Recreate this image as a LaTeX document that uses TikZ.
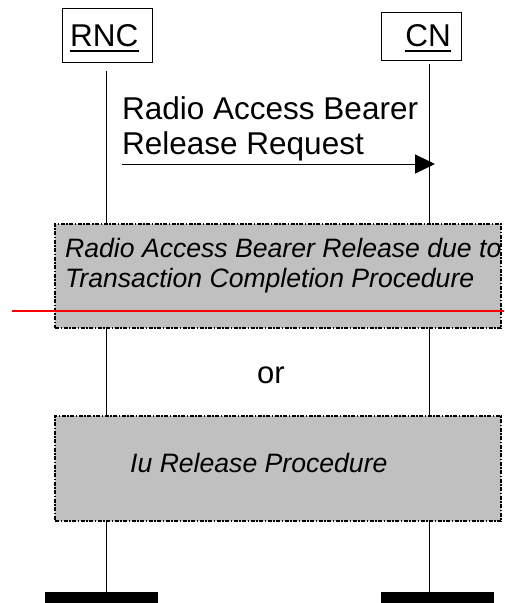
\documentclass[tikz,border=0pt]{standalone}
\usepackage{fontspec}
\setmainfont{Liberation Sans}
\usetikzlibrary{arrows.meta}
\definecolor{procgray}{RGB}{192,192,192}
\definecolor{redline}{RGB}{255,0,0}
\begin{document}
\begin{tikzpicture}[x=1pt,y=-1pt,
  actor/.style={draw, line width=0.8pt, inner sep=0pt},
  txt/.style={inner sep=0pt, font=\fontsize{31.5}{35}\selectfont, align=left},
  ortxt/.style={inner sep=0pt, font=\fontsize{31}{36}\selectfont},
  proc/.style={draw, fill=procgray, line width=1.5pt, inner sep=0pt,
    dash pattern=on 4pt off 1.5pt on 1.5pt off 1.5pt},
  ptxt/.style={inner sep=0pt, font=\fontsize{26.6}{30}\selectfont\itshape, align=left},
  life/.style={line width=0.8pt},
  uline/.style={line width=2pt},
  msg/.style={line width=1pt, -{Triangle[length=20pt,width=19pt]}},
  bar/.style={fill=black, inner sep=0pt, draw=none},
  red/.style={draw=redline, line width=2pt}]
\useasboundingbox (0,0) rectangle (504,603);
% lifelines
\coordinate (rncTop) at (106.5,71);
\coordinate (rncBot) at (106.5,592);
\coordinate (cnTop) at (429,64);
\coordinate (cnBot) at (429,592);
\draw[life] (rncTop) -- (rncBot);
\draw[life] (cnTop) -- (cnBot);
% actors
\node[actor, minimum width=90pt, minimum height=54pt] (rnc) at (107,35) {};
\node[txt, anchor=base west] (rnct) at (70,46) {RNC};
\draw[uline] ([yshift=-5pt]rnct.base west) -- ([yshift=-5pt]rnct.base east);
\node[actor, minimum width=80pt, minimum height=48pt] (cn) at (421,36) {};
\node[txt, anchor=base east] (cnt) at (451,46) {CN};
\draw[uline] ([yshift=-5pt]cnt.base west) -- ([yshift=-5pt]cnt.base east);
% message
\coordinate (m1s) at (122,164);
\coordinate (m1e) at (435,164);
\draw[msg] (m1s) -- (m1e);
\node[txt, anchor=base west] (m1l) at (122,154) {Radio Access Bearer\\Release Request};
% procedure 1
\node[proc, minimum width=446pt, minimum height=104pt] (p1) at (278,276) {};
\node[ptxt, anchor=base west] (p1t) at (65,287) {Radio Access Bearer Release due to\\Transaction Completion Procedure};
\coordinate (rl1) at (12,311);
\coordinate (rl2) at (504,311);
\draw[red] (rl1) -- (rl2);
% or
\node[ortxt, anchor=base west] (or) at (257,383) {or};
% procedure 2
\node[proc, minimum width=446pt, minimum height=105pt] (p2) at (278,468.5) {};
\node[ptxt, anchor=base west] (p2t) at (130,472) {Iu Release Procedure};
% end bars
\node[bar, minimum width=113pt, minimum height=11pt, anchor=north] (rncbar) at (101.5,592) {};
\node[bar, minimum width=113pt, minimum height=11pt, anchor=north] (cnbar) at (437.5,592) {};
\end{tikzpicture}
\end{document}
